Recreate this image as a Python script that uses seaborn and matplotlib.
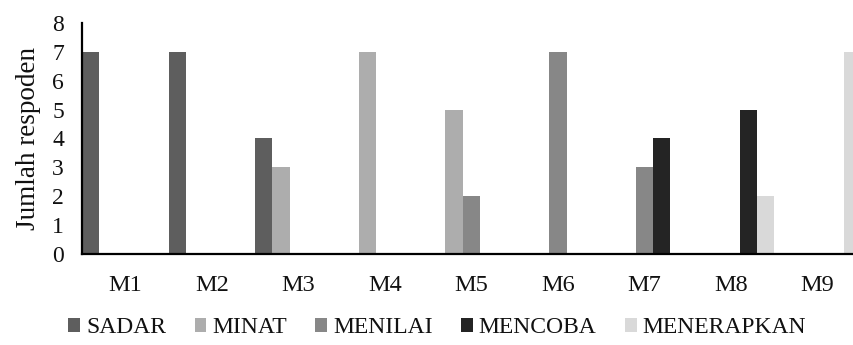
import matplotlib
matplotlib.use("Agg")
import matplotlib.pyplot as plt
import pandas as pd
import seaborn as sns

# Respondent counts per adoption stage for each member M1..M9
members = ["M1", "M2", "M3", "M4", "M5", "M6", "M7", "M8", "M9"]
stages = ["SADAR", "MINAT", "MENILAI", "MENCOBA", "MENERAPKAN"]
sadar = [7, 7, 4, 0, 0, 0, 0, 0, 0]
minat = [0, 0, 3, 7, 5, 0, 0, 0, 0]
menilai = [0, 0, 0, 0, 2, 7, 3, 0, 0]
mencoba = [0, 0, 0, 0, 0, 0, 4, 5, 0]
menerapkan = [0, 0, 0, 0, 0, 0, 0, 2, 7]
y_ticks = [0, 1, 2, 3, 4, 5, 6, 7, 8]

series = [sadar, minat, menilai, mencoba, menerapkan]
df = pd.DataFrame(
    [(m, s, vals[i]) for s, vals in zip(stages, series) for i, m in enumerate(members)],
    columns=["member", "stage", "count"],
)

colors = ["#5e5e5e", "#adadad", "#878787", "#242424", "#d9d9d9"]

sns.set_theme(style="white")
plt.rcParams["font.family"] = ["Liberation Serif", "DejaVu Serif"]

fig = plt.figure(figsize=(8.54, 3.45), dpi=100)
ax = fig.add_axes([0.096, 0.2638, 0.912, 0.6696])

sns.barplot(
    data=df, x="member", y="count", hue="stage",
    order=members, hue_order=stages, palette=colors,
    width=1.0, gap=0, linewidth=0, saturation=1, ax=ax, legend=False,
)

ax.set_xlim(-0.5, 8.5)
ax.set_ylim(0, 8)
ax.set_yticks(y_ticks)
ax.set_xlabel("")
ax.set_ylabel("Jumlah respoden", fontsize=19.5, labelpad=8, color="#111111")

ax.tick_params(axis="y", length=0, pad=13, labelsize=17, labelcolor="#111111")
ax.tick_params(axis="x", length=0, pad=15, labelsize=17.5, labelcolor="#111111")

for side in ["top", "right"]:
    ax.spines[side].set_visible(False)
for side in ["left", "bottom"]:
    ax.spines[side].set_color("black")
    ax.spines[side].set_linewidth(1.6)
ax.grid(False)

handles = [plt.Rectangle((0, 0), 1, 1, facecolor=c, edgecolor="none") for c in colors]
fig.legend(
    handles, stages, loc="center", bbox_to_anchor=(0.512, 0.05), ncol=5,
    frameon=False, prop={"family": "Liberation Serif", "size": 17},
    handlelength=0.5, handleheight=0.5,
    handletextpad=0.25, columnspacing=1.2, borderpad=0, labelcolor="#111111",
)

fig.savefig("out.png", dpi=100)
